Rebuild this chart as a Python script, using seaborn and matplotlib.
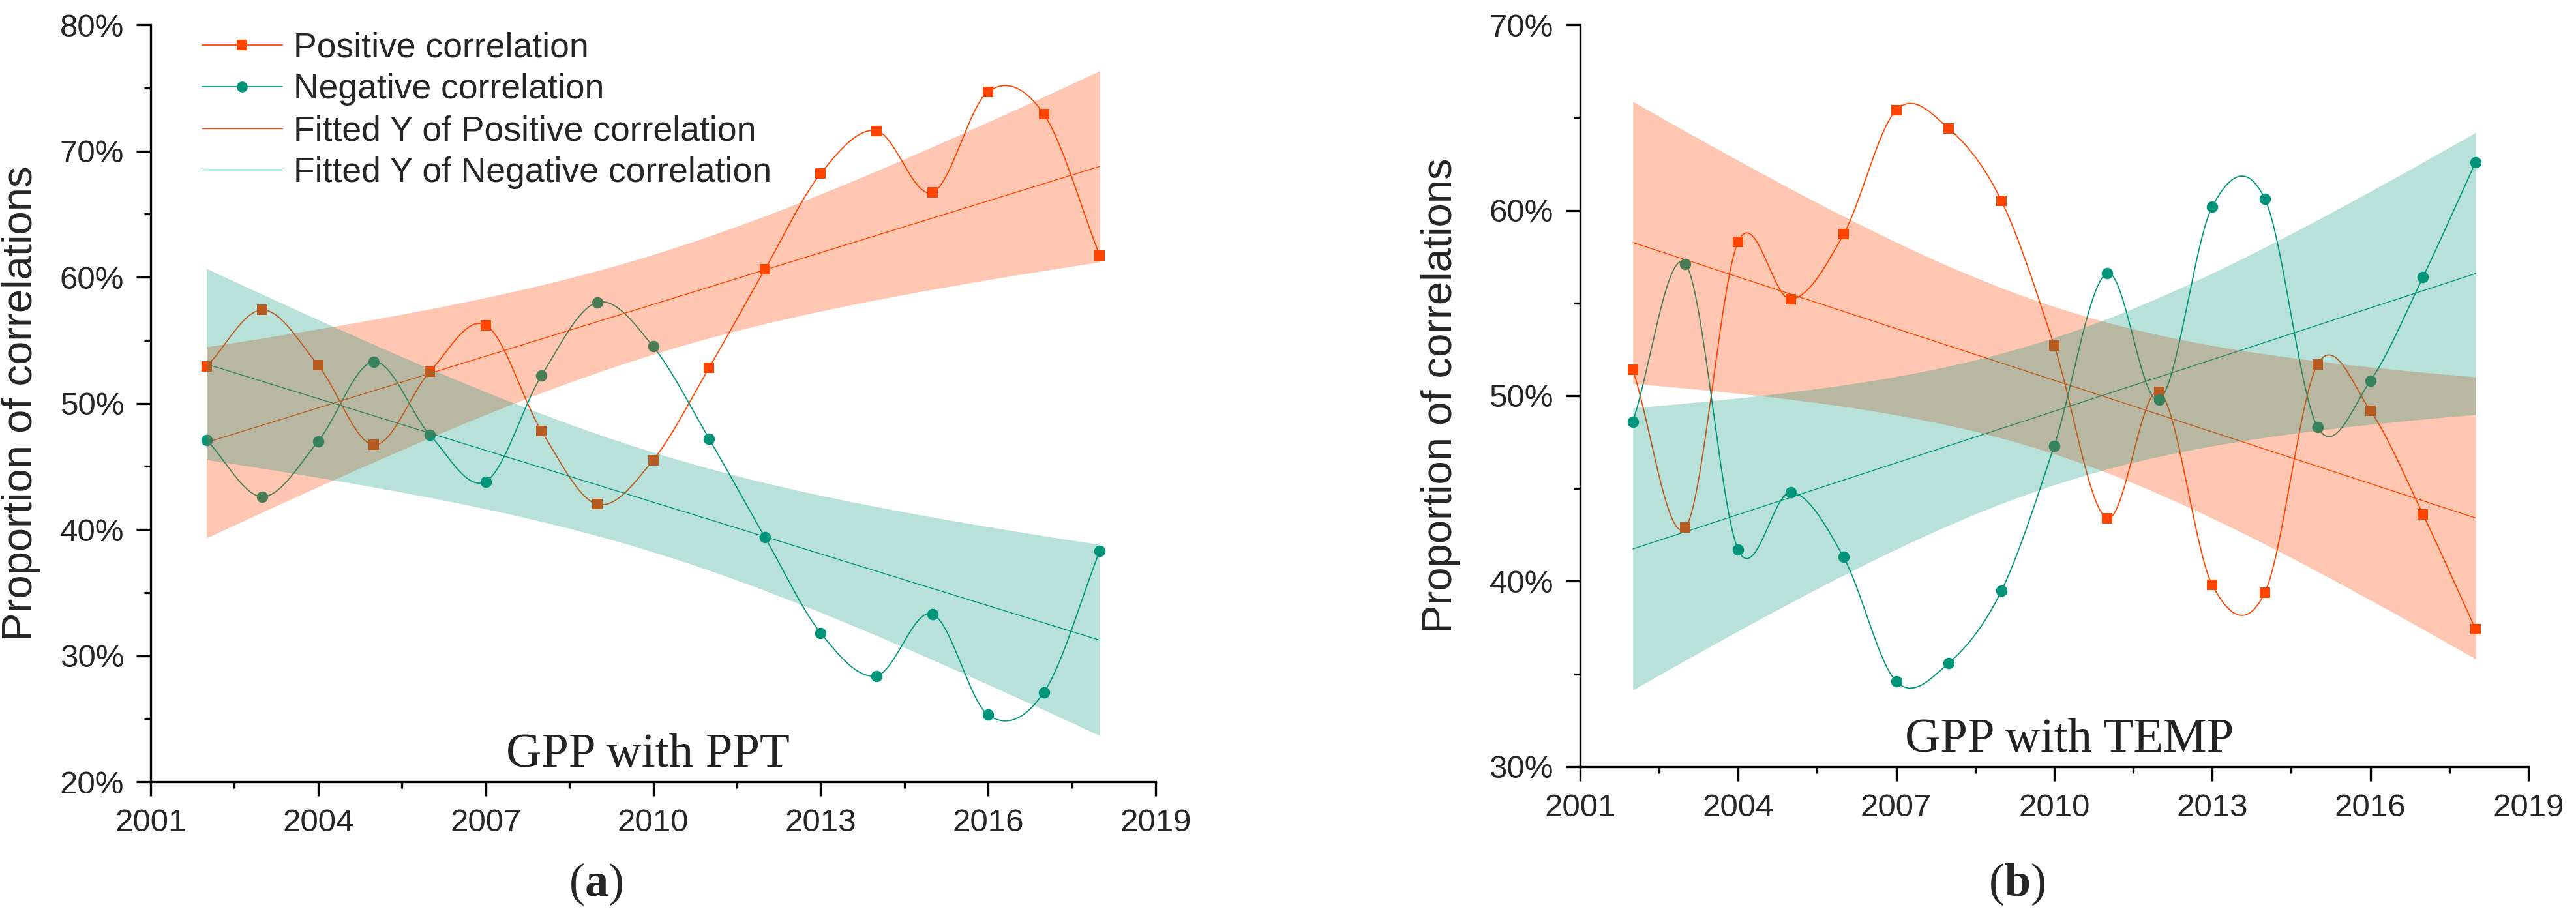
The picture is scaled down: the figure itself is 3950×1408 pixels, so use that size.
import numpy as np
import pandas as pd
import matplotlib
matplotlib.use('Agg')
import matplotlib.pyplot as plt
import seaborn as sns
from matplotlib.lines import Line2D
from matplotlib.ticker import MultipleLocator, FuncFormatter

# proportions (%)
years = list(range(2002, 2019))
ppt_pos = [52.9, 57.4, 53.0, 46.7, 52.5, 56.2, 47.8, 42.0, 45.5,
           52.8, 60.6, 68.2, 71.6, 66.7, 74.7, 72.9, 61.7]
ppt_neg = [47.1, 42.6, 47.0, 53.3, 47.5, 43.8, 52.2, 58.0, 54.5,
           47.2, 39.4, 31.8, 28.4, 33.3, 25.3, 27.1, 38.3]
temp_pos = [51.4, 42.9, 58.3, 55.2, 58.7, 65.4, 64.4, 60.5, 52.7,
            43.4, 50.2, 39.8, 39.4, 51.7, 49.2, 43.6, 37.4]
temp_neg = [48.6, 57.1, 41.7, 44.8, 41.3, 34.6, 35.6, 39.5, 47.3,
            56.6, 49.8, 60.2, 60.6, 48.3, 50.8, 56.4, 62.6]

labels = ['Positive correlation', 'Negative correlation',
          'Fitted Y of Positive correlation', 'Fitted Y of Negative correlation']

ORANGE = '#FF4500'
GREEN = '#00957A'


def spline_curve(x, y, per_seg=60):
    # cardinal (Catmull-Rom) spline connector, like Origin's "spline" line
    x = np.asarray(x, float)
    y = np.asarray(y, float)
    m = np.empty_like(y)
    m[1:-1] = (y[2:] - y[:-2]) / (x[2:] - x[:-2])
    m[0] = (y[1] - y[0]) / (x[1] - x[0])
    m[-1] = (y[-1] - y[-2]) / (x[-1] - x[-2])
    xs_all, ys_all = [], []
    for i in range(len(x) - 1):
        h = x[i + 1] - x[i]
        t = np.linspace(0, 1, per_seg, endpoint=(i == len(x) - 2))
        h00 = 2 * t ** 3 - 3 * t ** 2 + 1
        h10 = t ** 3 - 2 * t ** 2 + t
        h01 = -2 * t ** 3 + 3 * t ** 2
        h11 = t ** 3 - t ** 2
        xs_all.append(x[i] + t * h)
        ys_all.append(h00 * y[i] + h10 * h * m[i] + h01 * y[i + 1] + h11 * h * m[i + 1])
    return np.concatenate(xs_all), np.concatenate(ys_all)


def fit_band(x, y, n=300):
    # linear fit with 95% confidence band of the mean
    x = np.asarray(x, float)
    y = np.asarray(y, float)
    k, q = np.polyfit(x, y, 1)
    res = y - (k * x + q)
    s = np.sqrt(np.sum(res ** 2) / (len(x) - 2))
    sxx = np.sum((x - x.mean()) ** 2)
    xs = np.linspace(x.min(), x.max(), n)
    yh = k * xs + q
    t = 2.131  # t(0.975, df=15)
    half = t * s * np.sqrt(1 / len(x) + (xs - x.mean()) ** 2 / sxx)
    return xs, yh, yh - half, yh + half


sns.set_style('ticks')
plt.rcParams['font.family'] = ['Liberation Sans', 'DejaVu Sans']
plt.rcParams['mathtext.fontset'] = 'custom'
plt.rcParams['mathtext.rm'] = 'Liberation Serif'
plt.rcParams['mathtext.bf'] = 'Liberation Serif:bold'

fig = plt.figure(figsize=(39.5, 14.08), dpi=100)
ax_a = fig.add_axes([0.0585, 0.1484, 0.3901, 0.8246])
ax_b = fig.add_axes([0.6134, 0.1648, 0.3681, 0.8082])


def draw_panel(ax, pos, neg, ylim, title, tx, lab_x):
    df = pd.DataFrame({'Year': years, 'pos': pos, 'neg': neg})
    for col, color, marker, size in [('pos', ORANGE, 's', 145), ('neg', GREEN, 'o', 160)]:
        xs, ys = spline_curve(df['Year'], df[col])
        sns.lineplot(x=xs, y=ys, color=color, lw=1.3, ax=ax, zorder=2, sort=False)
        sns.scatterplot(x=df['Year'], y=df[col], marker=marker, s=size, color=color,
                        linewidth=0, ax=ax, zorder=3)
    for col, color, alpha in [('pos', ORANGE, 0.30), ('neg', GREEN, 0.28)]:
        xs, yh, lo, hi = fit_band(df['Year'], df[col])
        sns.lineplot(x=xs, y=yh, color=color, lw=1.0, ax=ax, zorder=2)
        ax.fill_between(xs, lo, hi, color=color, alpha=alpha, lw=0, zorder=4)

    ax.set_xlim(2001, 2019)
    ax.set_ylim(*ylim)
    ax.xaxis.set_major_locator(MultipleLocator(3))
    ax.xaxis.set_minor_locator(MultipleLocator(1.5))
    ax.yaxis.set_major_locator(MultipleLocator(10))
    ax.yaxis.set_minor_locator(MultipleLocator(5))
    ax.yaxis.set_major_formatter(FuncFormatter(lambda v, p: f'{v:.0f}%'))
    ax.tick_params(which='major', direction='out', length=15.5, width=2.4,
                   labelsize=35.5, pad=14, color='black')
    ax.tick_params(which='minor', direction='out', length=7.5, width=2.4, color='black')
    sns.despine(ax=ax)
    for sp in ['left', 'bottom']:
        ax.spines[sp].set_linewidth(2.4)
        ax.spines[sp].set_color('black')
    ax.set_xlabel('')
    ax.set_ylabel('Proportion of correlations', fontsize=47)
    ax.yaxis.set_label_coords(lab_x, 0.5)
    ax.text(tx, 0.02, title, transform=ax.transAxes, ha='center', va='baseline',
            fontsize=54, family='Liberation Serif', color='#222222', zorder=6)


draw_panel(ax_a, ppt_pos, ppt_neg, (20, 80), 'GPP with PPT', 0.495, -0.110)
draw_panel(ax_b, temp_pos, temp_neg, (30, 70), 'GPP with TEMP', 0.516, -0.1265)

handles = [Line2D([], [], color=ORANGE, lw=1.3, marker='s', markersize=12, markeredgewidth=0),
           Line2D([], [], color=GREEN, lw=1.3, marker='o', markersize=12, markeredgewidth=0),
           Line2D([], [], color=ORANGE, lw=1.0),
           Line2D([], [], color=GREEN, lw=1.0)]
ax_a.legend(handles, labels, loc='upper left', bbox_to_anchor=(0.051, 0.991), frameon=False,
            fontsize=38.5, handlelength=2.3, handletextpad=0.33, labelspacing=0.26,
            borderpad=0, borderaxespad=0)

fig.text(914 / 3950, 1 - 1356 / 1408, r'($\mathbf{a}$)', ha='center', va='center',
         fontsize=52, family='Liberation Serif')
fig.text(3093 / 3950, 1 - 1356 / 1408, r'($\mathbf{b}$)', ha='center', va='center',
         fontsize=52, family='Liberation Serif')

fig.savefig('out.png', dpi=100)
